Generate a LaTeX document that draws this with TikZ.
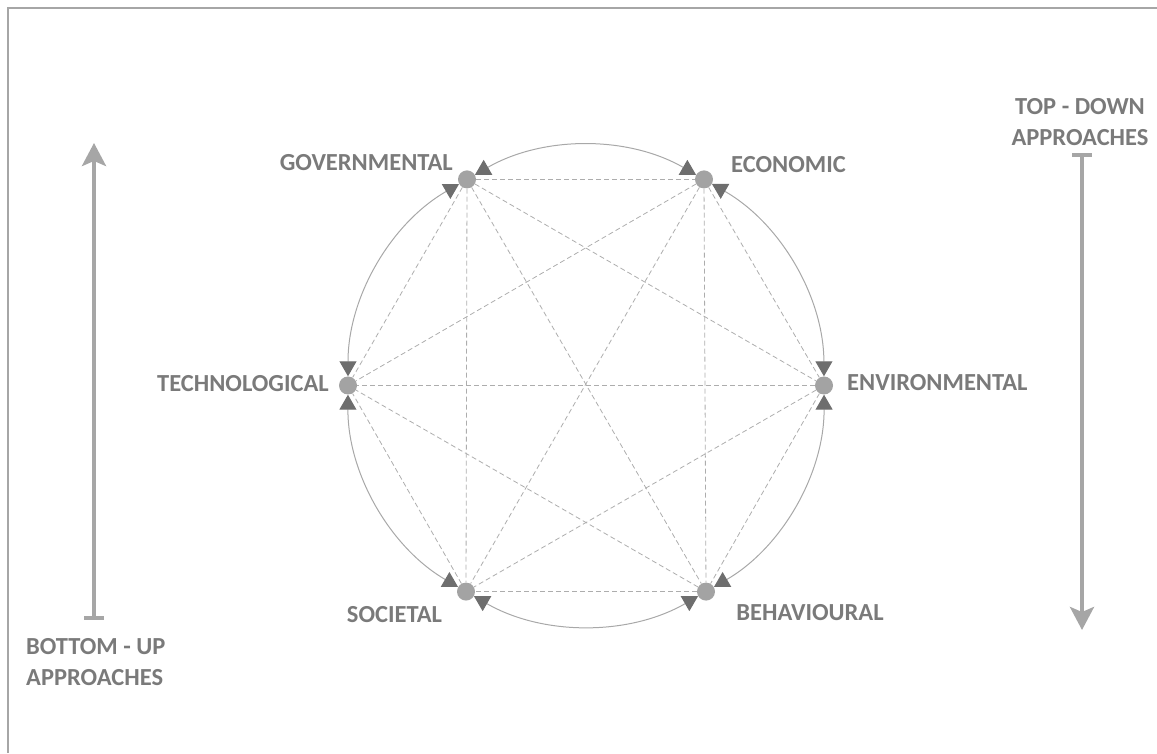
\documentclass[tikz,border=0pt]{standalone}
\usepackage{fontspec}
\setmainfont{Carlito}
\usetikzlibrary{arrows.meta}
\definecolor{txt}{HTML}{7A7A7A}
\definecolor{dotc}{HTML}{A3A3A3}
\definecolor{rimc}{HTML}{A8A8A8}
\definecolor{tric}{HTML}{6E6E6E}
\definecolor{dashc}{HTML}{ADADAD}
\definecolor{barc}{HTML}{A6A6A6}
\definecolor{framec}{HTML}{A6A6A6}
\begin{document}
\begin{tikzpicture}[x=1pt,y=1pt,
  dot/.style={circle, fill=dotc, minimum size=18pt, inner sep=0pt},
  lab/.style={text=txt, font=\fontsize{24.5}{31}\selectfont\bfseries, inner sep=0pt},
  rim/.style={draw=rimc, line width=1pt, {Triangle[length=15pt,width=17pt,color=tric]}-{Triangle[length=15pt,width=17pt,color=tric]}, bend left=30, looseness=0.91},
  link/.style={draw=dashc, line width=0.8pt, dash pattern=on 5pt off 3pt},
  updown/.style={draw=barc, line width=4pt},
  framestyle/.style={draw=framec, line width=2pt}]
\useasboundingbox (0,0) rectangle (1157,753);
% frame
\draw[framestyle] (8,0) -- (8,745) -- (1157,745);
% nodes
\node[dot] (gov) at (467,573.6) {};
\node[dot] (eco) at (704,573.6) {};
\node[dot] (env) at (824,367.5) {};
\node[dot] (beh) at (706,161.4) {};
\node[dot] (soc) at (466,161.4) {};
\node[dot] (tec) at (348,367.5) {};
% labels
\node[lab, anchor=east] (lgov) at (453,590) {GOVERNMENTAL};
\node[lab, anchor=west] (leco) at (731,588) {ECONOMIC};
\node[lab, anchor=east] (ltec) at (329,369) {TECHNOLOGICAL};
\node[lab, anchor=west] (lenv) at (847,370) {ENVIRONMENTAL};
\node[lab] (lsoc) at (394.5,138) {SOCIETAL};
\node[lab] (lbeh) at (810,140) {BEHAVIOURAL};
\node[lab, align=center] (ltd) at (1080,630.5) {TOP - DOWN\\APPROACHES};
\node[lab, align=left, anchor=west] (lbu) at (26,91) {BOTTOM - UP\\APPROACHES};
% dashed links (complete graph)
\foreach \a/\b in {gov/eco,gov/env,gov/beh,gov/soc,gov/tec,eco/env,eco/beh,eco/soc,eco/tec,env/beh,env/soc,env/tec,beh/soc,beh/tec,soc/tec}
  \draw[link] (\a) -- (\b);
% circle arcs with arrowheads
\draw[rim] (gov) to (eco);
\draw[rim] (eco) to (env);
\draw[rim] (env) to (beh);
\draw[rim] (beh) to (soc);
\draw[rim] (soc) to (tec);
\draw[rim] (tec) to (gov);
% approach arrows
\coordinate (bu0) at (94,133);
\coordinate (bu1) at (94,610);
\coordinate (td0) at (1082,600);
\coordinate (td1) at (1082,123);
\draw[updown, {Bar[width=20pt]}-{Stealth[length=23pt,width=24pt,inset=5pt]}] (bu0) -- (bu1);
\draw[updown, {Bar[width=20pt]}-{Stealth[length=23pt,width=24pt,inset=5pt]}] (td0) -- (td1);
\end{tikzpicture}
\end{document}
